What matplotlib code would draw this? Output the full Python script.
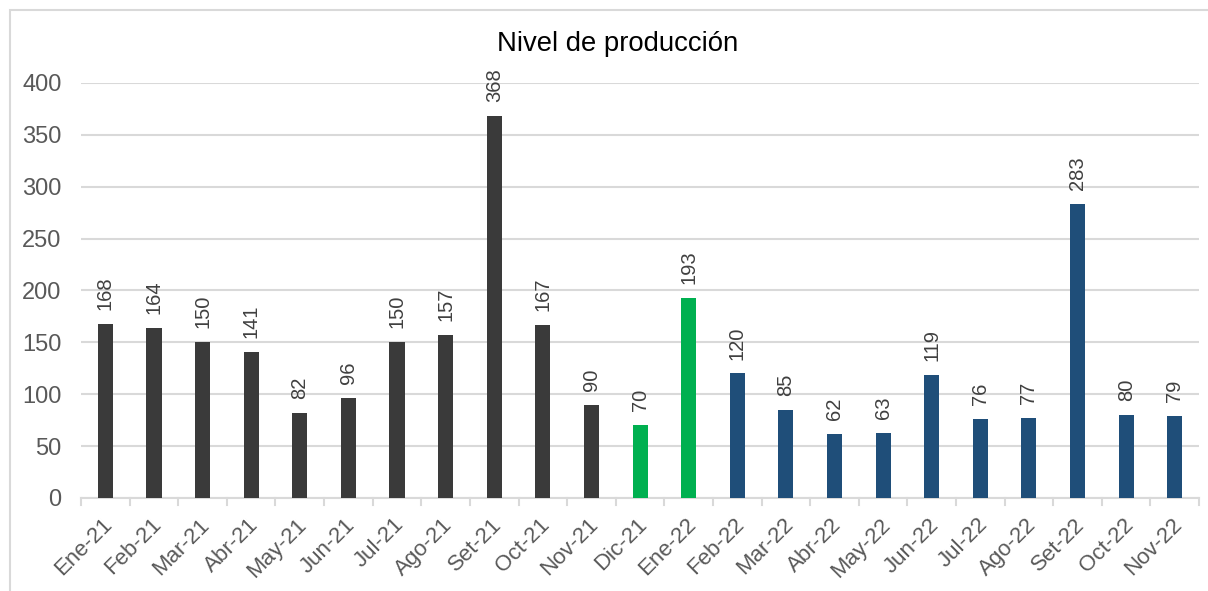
import matplotlib
matplotlib.use("Agg")
import matplotlib.pyplot as plt
from matplotlib.patches import Rectangle
from matplotlib.transforms import ScaledTranslation

months = ["Ene-21", "Feb-21", "Mar-21", "Abr-21", "May-21", "Jun-21", "Jul-21",
          "Ago-21", "Set-21", "Oct-21", "Nov-21", "Dic-21", "Ene-22", "Feb-22",
          "Mar-22", "Abr-22", "May-22", "Jun-22", "Jul-22", "Ago-22", "Set-22",
          "Oct-22", "Nov-22"]
production = [168, 164, 150, 141, 82, 96, 150, 157, 368, 167, 90, 70, 193, 120,
              85, 62, 63, 119, 76, 77, 283, 80, 79]
# colour group per month: dark for the first eleven, green for the transition, blue after
groups = ["dark"] * 11 + ["green"] * 2 + ["blue"] * 10
y_ticks = [0, 50, 100, 150, 200, 250, 300, 350, 400]

palette = {"dark": "#3a3a3a", "green": "#00b050", "blue": "#1f4e79"}

plt.rcParams["font.family"] = ["Liberation Sans", "DejaVu Sans"]

fig = plt.figure(figsize=(12.08, 5.91), dpi=100)
ax = fig.add_axes([0.0671, 0.1574, 0.9255, 0.7022])

x = list(range(len(months)))
colors = [palette[g] for g in groups]
bars = ax.bar(x, production, width=0.31, color=colors, zorder=3)

for xi, v in zip(x, production):
    ax.annotate(str(v), xy=(xi, v), xytext=(0, 10), textcoords="offset points",
                rotation=90, ha="center", va="bottom", fontsize=14.5,
                color="#404040", zorder=4)

ax.set_xlim(-0.5, len(months) - 0.5)
ax.set_ylim(0, 400)
ax.set_yticks(y_ticks)
ax.set_xticks(x)
ax.set_xticklabels(months, rotation=45, ha="right", va="center",
                   rotation_mode="anchor", fontsize=16, color="#595959")
ax.tick_params(axis="y", length=0, labelsize=17, labelcolor="#595959", pad=14)
ax.tick_params(axis="x", length=0, pad=17)

shift = ScaledTranslation(4 / 100, 0, fig.dpi_scale_trans)
for lbl in ax.get_xticklabels():
    lbl.set_transform(lbl.get_transform() + shift)

# gridlines and category separators
ax.yaxis.grid(True, color="#d9d9d9", linewidth=1.5, zorder=0)
for b in [i - 0.5 for i in range(len(months) + 1)]:
    ax.plot([b, b], [0, -0.018], transform=ax.get_xaxis_transform(),
            color="#d9d9d9", linewidth=1.5, clip_on=False)
for side in ["top", "right", "left"]:
    ax.spines[side].set_visible(False)
ax.spines["bottom"].set_color("#d9d9d9")
ax.spines["bottom"].set_linewidth(1.5)

fig.text(0.511, 0.925, "Nivel de producción", ha="center", va="center",
         fontsize=19.8, color="#000000")

fig.patches.append(Rectangle((10 / 1208, -0.05), 1.2, 1 - 10 / 591 + 0.05,
                             transform=fig.transFigure, fill=False,
                             edgecolor="#d9d9d9", linewidth=1.5))

fig.savefig("out.png", dpi=100)
